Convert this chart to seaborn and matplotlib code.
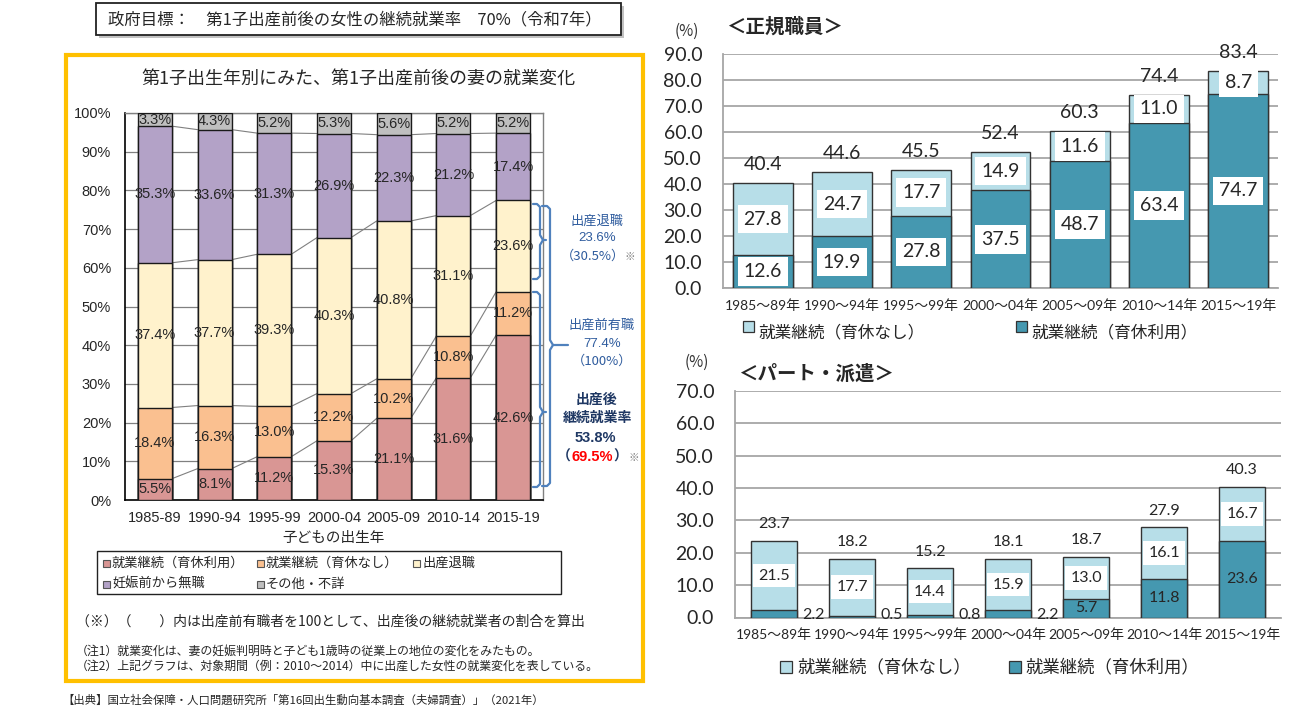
import matplotlib
matplotlib.use('Agg')
import matplotlib.pyplot as plt
from matplotlib.patches import Rectangle
from matplotlib.lines import Line2D
import seaborn as sns
import numpy as np

# ---------------- data ----------------
periods_left = ['1985-89', '1990-94', '1995-99', '2000-04', '2005-09', '2010-14', '2015-19']
left_series = ['就業継続（育休利用）', '就業継続（育休なし）', '出産退職', '妊娠前から無職', 'その他・不詳']
cont_leave = [5.5, 8.1, 11.2, 15.3, 21.1, 31.6, 42.6]
cont_noleave = [18.4, 16.3, 13.0, 12.2, 10.2, 10.8, 11.2]
quit_birth = [37.4, 37.7, 39.3, 40.3, 40.8, 31.1, 23.6]
no_job = [35.3, 33.6, 31.3, 26.9, 22.3, 21.2, 17.4]
other = [3.3, 4.3, 5.2, 5.3, 5.6, 5.2, 5.2]

periods_right = ['1985～89年', '1990～94年', '1995～99年', '2000～04年', '2005～09年', '2010～14年', '2015～19年']
right_series = ['就業継続（育休なし）', '就業継続（育休利用）']
reg_leave = [12.6, 19.9, 27.8, 37.5, 48.7, 63.4, 74.7]
reg_noleave = [27.8, 24.7, 17.7, 14.9, 11.6, 11.0, 8.7]
reg_total = [40.4, 44.6, 45.5, 52.4, 60.3, 74.4, 83.4]
part_leave = [2.2, 0.5, 0.8, 2.2, 5.7, 11.8, 23.6]
part_noleave = [21.5, 17.7, 14.4, 15.9, 13.0, 16.1, 16.7]
part_total = [23.7, 18.2, 15.2, 18.1, 18.7, 27.9, 40.3]

# ---------------- style ----------------
sns.set_style('white')
plt.rcParams['font.family'] = ['Noto Sans CJK JP', 'DejaVu Sans']
NUM_L = ['Liberation Sans', 'Noto Sans CJK JP']
NUM_R = ['Lato', 'Noto Sans CJK JP']

colorsL = ['#D99694', '#FAC090', '#FFF2CC', '#B3A2C7', '#BFBFBF']
LIGHT = '#B7DEE8'
DARK = '#4598B0'
GRID_R = '#A6A6A6'

W, H = 1292, 706
fig = plt.figure(figsize=(W / 100, H / 100), dpi=100)


def fx(x):
    return x / W


def fy(y):
    return 1 - y / H


def axrect(x0, y0, x1, y1):
    return [fx(x0), fy(y1), (x1 - x0) / W, (y1 - y0) / H]


axL = fig.add_axes(axrect(125, 113, 543, 500))
axT = fig.add_axes(axrect(723, 54, 1278, 288))
axB = fig.add_axes(axrect(735, 391, 1281, 617.5))

# ---------------- left stacked chart ----------------
layers = [cont_leave, cont_noleave, quit_birth, no_job, other]
cum = np.cumsum(np.array(layers), axis=0)
wL = 0.57
for i in range(len(layers) - 1, -1, -1):
    sns.barplot(x=periods_left, y=cum[i], color=colorsL[i], saturation=1, width=wL,
                edgecolor='#1a1a1a', linewidth=1.0, errorbar=None, ax=axL, zorder=3)
for i in range(len(layers)):
    for j in range(len(periods_left)):
        axL.text(j, cum[i][j] - layers[i][j] / 2, f"{layers[i][j]:.1f}%", ha='center', va='center',
                 fontsize=10.5, family=NUM_L, zorder=6)
# series lines between bars
for i in range(len(layers) - 1):
    for j in range(len(periods_left) - 1):
        axL.plot([j + wL / 2, j + 1 - wL / 2], [cum[i][j], cum[i][j + 1]], color='#808080', lw=0.8, zorder=2.5)

axL.set_xlim(-0.5, 6.5)
axL.set_ylim(0, 100)
axL.set_yticks(np.arange(0, 101, 10))
axL.set_yticklabels([f"{v}%" for v in range(0, 101, 10)], fontsize=10.5, family=NUM_L)
axL.set_xticks(range(7))
axL.set_xticklabels(periods_left, fontsize=10.5, family=NUM_L)
axL.set_xticks(np.arange(0.5, 6.5, 1), minor=True)
axL.tick_params(axis='x', which='major', length=0, pad=8)
axL.tick_params(axis='x', which='minor', length=4, direction='in', color='black', width=1)
axL.tick_params(axis='y', length=0, pad=10)
axL.yaxis.grid(True, color='#808080', lw=0.9)
axL.xaxis.grid(False)
axL.set_axisbelow(True)
for s in ['left', 'bottom']:
    axL.spines[s].set_color('black')
    axL.spines[s].set_linewidth(1.2)
for s in ['top', 'right']:
    axL.spines[s].set_color('#808080')
    axL.spines[s].set_linewidth(1.0)
axL.set_ylabel('')
axL.set_xlabel('子どもの出生年', fontsize=10.5, labelpad=4)


# ---------------- right charts ----------------
def right_chart(ax, leave, noleave, total, ymax, fs_lab, w, tot_off, small_rule):
    stacked = [a + b for a, b in zip(leave, noleave)]
    sns.barplot(x=periods_right, y=stacked, color=LIGHT, saturation=1, width=w,
                edgecolor='#333333', linewidth=1.0, errorbar=None, ax=ax, zorder=3)
    sns.barplot(x=periods_right, y=leave, color=DARK, saturation=1, width=w,
                edgecolor='#333333', linewidth=1.0, errorbar=None, ax=ax, zorder=3)
    box = dict(boxstyle='square,pad=0.3', fc='white', ec='none')
    for j in range(len(periods_right)):
        # light segment labels
        ax.text(j, leave[j] + noleave[j] / 2, f"{noleave[j]:.1f}", ha='center', va='center',
                fontsize=fs_lab, family=NUM_R, bbox=box, zorder=6)
        # dark segment labels
        if small_rule and leave[j] < 3:
            ax.annotate(f"{leave[j]:.1f}", xy=(j + w / 2, 0.9), xytext=(12, 0), textcoords='offset points',
                        ha='center', va='center', fontsize=fs_lab, family=NUM_R, zorder=6,
                        annotation_clip=False)
        elif small_rule:
            ax.text(j, leave[j] / 2, f"{leave[j]:.1f}", ha='center', va='center',
                    fontsize=fs_lab, family=NUM_R, zorder=6)
        else:
            ax.text(j, leave[j] / 2, f"{leave[j]:.1f}", ha='center', va='center',
                    fontsize=fs_lab, family=NUM_R, bbox=box, zorder=6)
        ax.annotate(f"{total[j]:.1f}", xy=(j, total[j]), xytext=(0, tot_off), textcoords='offset points',
                    ha='center', va='bottom', fontsize=fs_lab, family=NUM_R, zorder=6)
    ax.set_xlim(-0.5, 6.5)
    ax.set_ylim(0, ymax)
    ax.set_yticks(np.arange(0, ymax + 1, 10))
    ax.set_yticklabels([f"{v:.1f}" for v in np.arange(0, ymax + 1, 10)], fontsize=14, family=NUM_R)
    ax.set_xticks(range(7))
    ax.set_xticklabels(periods_right, fontsize=10, family=NUM_R)
    ax.set_xticks(np.arange(-0.5, 7, 1), minor=True)
    ax.tick_params(axis='x', which='major', length=0, pad=8)
    ax.tick_params(axis='x', which='minor', length=7, color=GRID_R, width=1)
    ax.tick_params(axis='y', length=5, color=GRID_R, width=1.2, pad=10)
    ax.yaxis.grid(True, color=GRID_R, lw=1.3)
    ax.xaxis.grid(False)
    ax.set_axisbelow(True)
    for s in ['top', 'right']:
        ax.spines[s].set_visible(False)
    for s in ['left', 'bottom']:
        ax.spines[s].set_color(GRID_R)
        ax.spines[s].set_linewidth(1.3)
    ax.set_xlabel('')
    ax.set_ylabel('')


right_chart(axT, reg_leave, reg_noleave, reg_total, 90, 14, 0.755, 7, False)
right_chart(axB, part_leave, part_noleave, part_total, 70, 11.5, 0.59, 7, True)


# ---------------- figure decorations ----------------
def frect(x0, y0, x1, y1, **kw):
    r = Rectangle((fx(x0), fy(y1)), (x1 - x0) / W, (y1 - y0) / H, transform=fig.transFigure, **kw)
    fig.add_artist(r)
    return r


def ftext(x, y, s, **kw):
    kw.setdefault('va', 'center')
    return fig.text(fx(x), fy(y), s, **kw)


# top goal box with shadow
frect(99, 6, 624, 38, fc='#9a9a9a', ec='none', alpha=0.6)
frect(96, 3, 621, 35, fc='white', ec='#222222', lw=1.3)
ftext(108, 20, '政府目標：　第1子出産前後の女性の継続就業率　70%（令和7年）', fontsize=11.8, ha='left')

# orange frame
frect(66, 55, 643, 681, fill=False, ec='#FFC000', lw=3)
ftext(358, 80, '第1子出生年別にみた、第1子出産前後の妻の就業変化', fontsize=13, ha='center')

# left legend
frect(97, 551, 561, 594, fill=False, ec='#222222', lw=1)
leg_pos = [(106, 563), (260, 563), (417, 563), (106, 584), (260, 584)]
for (x, y), name, c in zip(leg_pos, left_series, colorsL):
    frect(x - 3.5, y - 3.5, x + 3.5, y + 3.5, fc=c, ec='#555555', lw=0.8)
    ftext(x + 6, y, name, fontsize=9.5, ha='left')

# notes
ftext(76, 622, '（※）（　　）内は出産前有職者を100として、出産後の継続就業者の割合を算出', fontsize=10, ha='left')
ftext(76, 651, '（注1）就業変化は、妻の妊娠判明時と子ども1歳時の従業上の地位の変化をみたもの。', fontsize=8.6, ha='left')
ftext(76, 666, '（注2）上記グラフは、対象期間（例：2010～2014）中に出産した女性の就業変化を表している。', fontsize=8.6, ha='left')
ftext(62, 700, '【出典】国立社会保障・人口問題研究所「第16回出生動向基本調査（夫婦調査）」（2021年）', fontsize=8.2, ha='left')

# brackets
BCOL = '#4F81BD'


def fline(pts, **kw):
    xs = [fx(p[0]) for p in pts]
    ys = [fy(p[1]) for p in pts]
    fig.add_artist(Line2D(xs, ys, transform=fig.transFigure, color=BCOL, lw=1.6, **kw))


def brace(x0, x1, xt, top, bot, tip):
    fline([(x0, top), (x1 - 3, top), (x1, top + 3), (x1, tip - 5), (x1 + 3, tip)])
    fline([(x1 + 3, tip), (x1, tip + 5), (x1, bot - 3), (x1 - 3, bot), (x0, bot)])
    fline([(x1 + 3, tip), (xt, tip)])


brace(533, 540, 546, 204, 279, 240)
brace(533, 540, 546, 292, 487, 412)
brace(542, 550, 568, 206, 486, 345)

TCOL = '#2F5C9E'
ftext(597, 221, '出産退職', fontsize=9.5, ha='center', color=TCOL)
ftext(597, 238, '23.6%', fontsize=9.5, ha='center', color=TCOL, family=NUM_L)
ftext(593, 256, '（30.5%）', fontsize=9.5, ha='center', color=TCOL)
ftext(624, 257, '※', fontsize=7.5, ha='left', color='#7F7F7F')
ftext(602, 325, '出産前有職', fontsize=9.5, ha='center', color=TCOL)
ftext(602, 344, '77.4%', fontsize=9.5, ha='center', color=TCOL, family=NUM_L)
ftext(602, 361, '（100%）', fontsize=9.5, ha='center', color=TCOL)
NCOL = '#1F3864'
ftext(596, 400, '出産後', fontsize=10, ha='center', color=NCOL, weight='bold')
ftext(597, 418, '継続就業率', fontsize=10, ha='center', color=NCOL, weight='bold')
ftext(595, 438, '53.8%', fontsize=10.5, ha='center', color=NCOL, weight='bold', family=NUM_L)
ftext(571, 457, '（', fontsize=10, ha='right', color=NCOL, weight='bold')
ftext(592, 457, '69.5%', fontsize=10.5, ha='center', color='#FF0000', weight='bold', family=NUM_L)
ftext(613, 457, '）', fontsize=10, ha='left', color=NCOL, weight='bold')
ftext(629, 458, '※', fontsize=7.5, ha='left', color='#7F7F7F')

# right chart titles
ftext(675, 31, '(%)', fontsize=11, ha='left', color='#333333')
ftext(726, 27, '＜正規職員＞', fontsize=14, ha='left', weight='bold')
ftext(685, 362, '(%)', fontsize=11, ha='left', color='#333333')
ftext(738, 374, '＜パート・派遣＞', fontsize=14, ha='left', weight='bold')

# right legends
for (sx, tx, y), name, c in zip([(743, 758, 333), (1016, 1031, 333)], right_series, [LIGHT, DARK]):
    frect(sx, y - 12, sx + 11, y - 1, fc=c, ec='#333333', lw=0.9)
    ftext(tx, y, name, fontsize=12, ha='left')
for (sx, tx, y), name, c in zip([(780, 797, 668), (1009, 1025, 668)], right_series, [LIGHT, DARK]):
    frect(sx, y - 7, sx + 12, y + 5, fc=c, ec='#333333', lw=0.9)
    ftext(tx, y, name, fontsize=12.5, ha='left')

fig.savefig('out.png', dpi=100)
